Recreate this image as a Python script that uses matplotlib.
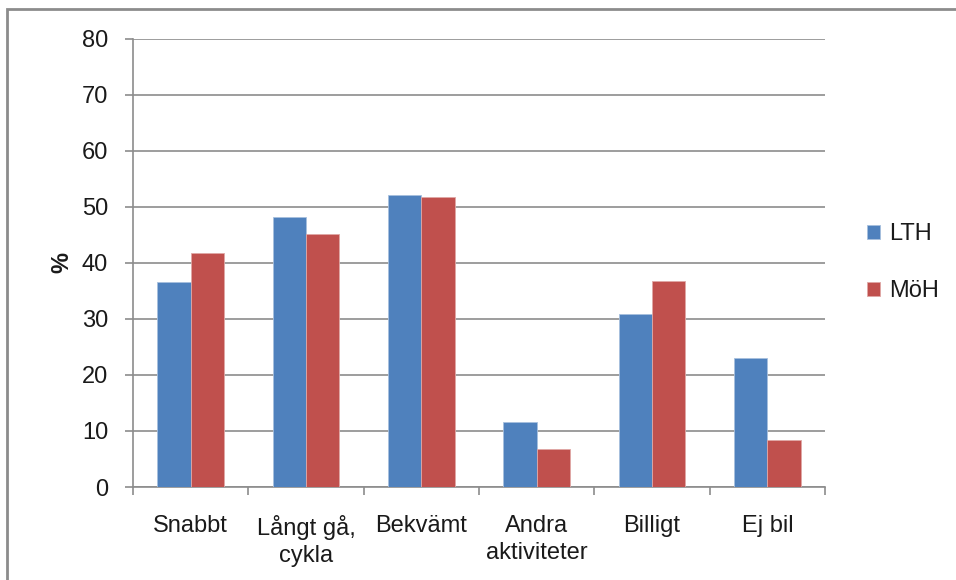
import numpy as np
import matplotlib
matplotlib.use("Agg")
import matplotlib.pyplot as plt
from matplotlib.patches import Rectangle

categories = ["Snabbt", "Långt gå,\ncykla", "Bekvämt", "Andra\naktiviteter", "Billigt", "Ej bil"]
lth = [36.5, 48.2, 52.0, 11.6, 30.9, 23.0]
moh = [41.8, 45.1, 51.7, 6.8, 36.8, 8.4]

plt.rcParams['font.family'] = ['Liberation Sans', 'DejaVu Sans']
plt.rcParams['font.size'] = 17

fig = plt.figure(figsize=(9.56, 5.8), dpi=100)
ax = fig.add_axes([133/956, 1-487/580, (825-133)/956, (487-38.5)/580])

# frame round the chart area, like the Excel chart border
fig.patches.append(Rectangle((7/956, -0.1), 1.1, 1.1 - 9/580, transform=fig.transFigure,
                             fill=False, edgecolor="#8c8c8c", linewidth=2))

x = np.arange(len(categories))
w = 0.29
ax.bar(x - w/2, lth, w, color="#4f81bd", edgecolor="#a7c0de", linewidth=0.6, label="LTH", zorder=3)
ax.bar(x + w/2, moh, w, color="#c0504d", edgecolor="#dfa8a6", linewidth=0.6, label="MöH", zorder=3)

ax.set_xlim(-0.5, len(categories) - 0.5)
ax.set_ylim(0, 80)
ax.set_yticks(np.arange(0, 81, 10))
ax.yaxis.grid(True, color="#8c8c8c", linewidth=1.2, zorder=0)
for s in ["top", "right"]:
    ax.spines[s].set_visible(False)
ax.spines["left"].set_color("#8c8c8c")
ax.spines["bottom"].set_color("#8c8c8c")
ax.spines["left"].set_linewidth(1.2)
ax.spines["bottom"].set_linewidth(1.2)

ax.set_xticks(np.arange(-0.5, len(categories)), minor=False)
ax.set_xticklabels([])
ax.set_xticks(x, minor=True)
ax.set_xticklabels(categories, minor=True, linespacing=1.3, color="#1a1a1a")
ax.tick_params(axis="x", which="major", length=6, color="#8c8c8c", width=1.2)
ax.tick_params(axis="x", which="minor", length=0, pad=20)
ax.tick_params(axis="y", length=6, color="#8c8c8c", width=1.2, pad=12, labelcolor="#1a1a1a")
for lbl in ax.get_xticklabels(minor=True):
    lbl.set_verticalalignment("top")

ax.set_ylabel("%", fontweight="bold", labelpad=6, color="#1a1a1a")

leg = ax.legend(loc="center left", bbox_to_anchor=(1.03, 0.5), frameon=False,
                handlelength=0.55, handleheight=0.55, handletextpad=0.4, labelspacing=1.5)
for t in leg.get_texts():
    t.set_color("#1a1a1a")

fig.savefig("out.png", dpi=100)
